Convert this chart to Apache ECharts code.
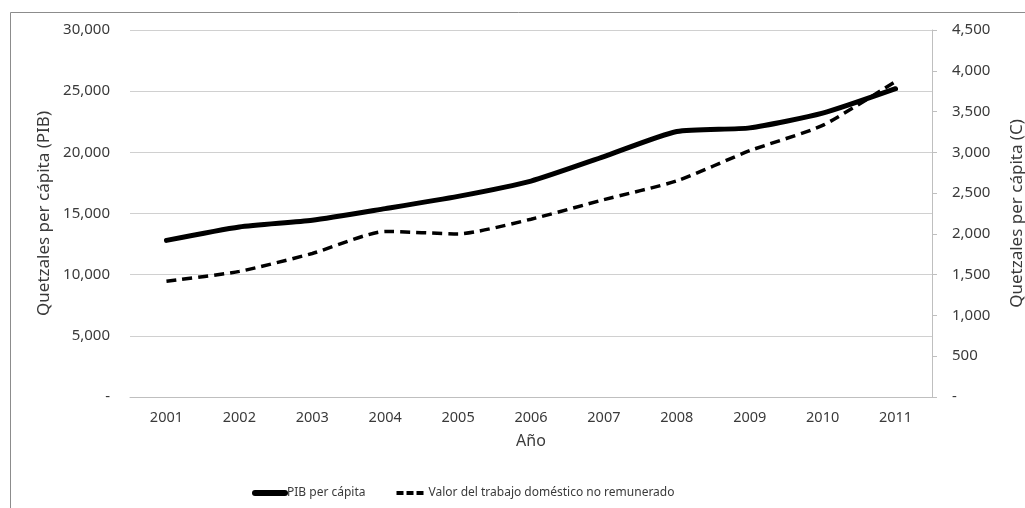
<!DOCTYPE html>
<html>
<head>
<meta charset="utf-8">
<script src="https://cdn.jsdelivr.net/npm/echarts@6/dist/echarts.min.js"></script>
<style>html,body{margin:0;padding:0;background:#fff}#c{width:1025px;height:508px}</style>
</head>
<body>
<div id="c"></div>
<script>
const years = ['2001','2002','2003','2004','2005','2006','2007','2008','2009','2010','2011'];
const pibPerCapita = [12800, 13900, 14450, 15400, 16400, 17650, 19650, 21700, 22000, 23200, 25200];
const trabajoDomestico = [1420, 1540, 1760, 2030, 2000, 2180, 2420, 2650, 3020, 3330, 3870];
const leftTicks = {min: 0, max: 30000, interval: 5000};
const rightTicks = {min: 0, max: 4500, interval: 500};
const seriesNames = ['PIB per cápita', 'Valor del trabajo doméstico no remunerado'];

const font = 'Noto Sans';
const txt = '#3a3a3a';
const fmt = v => v === 0 ? '-' : v.toLocaleString('en-US');
const chart = echarts.init(document.getElementById('c'));
chart.setOption({
  animation: false,
  backgroundColor: '#fff',
  textStyle: {fontFamily: font, color: txt},
  graphic: [{type: 'rect', shape: {x: 10.5, y: 12.5, width: 1030, height: 520}, style: {fill: 'none', stroke: '#8c8c8c', lineWidth: 1}, silent: true}],
  grid: {left: 130, right: 93, top: 30, bottom: 111, containLabel: false, outerBoundsMode: 'none'},
  legend: {
    bottom: 9, left: 252, padding: 0, itemGap: 29, itemWidth: 30, itemHeight: 6,
    itemStyle: {opacity: 0},
    textStyle: {fontFamily: font, fontSize: 12, color: txt, padding: [0, 0, 0, -3]},
    data: [
      {name: seriesNames[0], lineStyle: {width: 6, color: '#000'}},
      {name: seriesNames[1], lineStyle: {width: 4, color: '#000', type: [7, 3]}}
    ]
  },
  xAxis: {
    type: 'category', data: years, boundaryGap: true,
    name: 'Año', nameLocation: 'middle', nameGap: 36,
    nameTextStyle: {fontFamily: font, fontSize: 16, color: txt},
    axisLine: {lineStyle: {color: '#bfbfbf'}},
    axisTick: {show: false},
    axisLabel: {fontFamily: font, fontSize: 14.5, color: txt, margin: 13}
  },
  yAxis: [{
    type: 'value', position: 'left', min: leftTicks.min, max: leftTicks.max, interval: leftTicks.interval,
    name: 'Quetzales per cápita (PIB)', nameLocation: 'middle', nameGap: 77,
    nameTextStyle: {fontFamily: font, fontSize: 17, color: txt},
    axisLine: {show: false}, axisTick: {show: false},
    axisLabel: {formatter: fmt, fontFamily: font, fontSize: 15, color: txt, margin: 20},
    splitLine: {lineStyle: {color: '#d0d0d0', width: 1}}
  }, {
    type: 'value', position: 'right', min: rightTicks.min, max: rightTicks.max, interval: rightTicks.interval,
    name: 'Quetzales per cápita (C)', nameLocation: 'middle', nameGap: 77,
    nameTextStyle: {fontFamily: font, fontSize: 17, color: txt},
    axisLine: {show: true, lineStyle: {color: '#bfbfbf'}},
    axisTick: {show: true, length: 5, lineStyle: {color: '#bfbfbf'}},
    axisLabel: {formatter: fmt, fontFamily: font, fontSize: 15, color: txt, margin: 20},
    splitLine: {show: false}
  }],
  series: [{
    name: seriesNames[0], type: 'line', yAxisIndex: 0, data: pibPerCapita,
    symbol: 'none', smooth: 0.2,
    lineStyle: {color: '#000', width: 5, cap: 'round'},
    itemStyle: {color: '#000'}
  }, {
    name: seriesNames[1], type: 'line', yAxisIndex: 1, data: trabajoDomestico,
    symbol: 'none', smooth: 0.2,
    lineStyle: {color: '#000', width: 3.5, type: [10, 6]},
    itemStyle: {color: '#000'}
  }]
});
</script>
</body>
</html>
